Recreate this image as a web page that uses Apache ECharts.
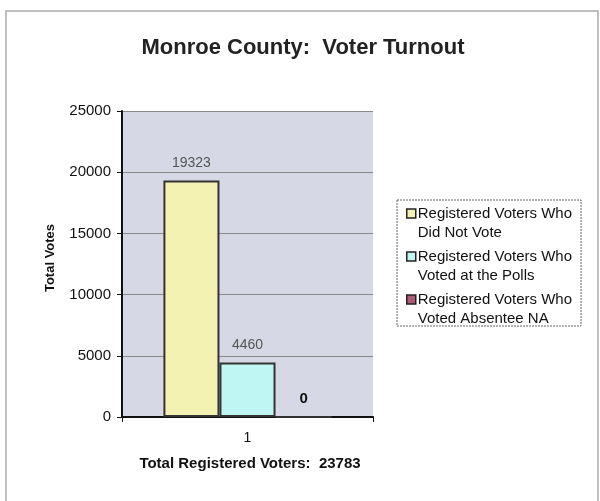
<!DOCTYPE html>
<html><head><meta charset="utf-8">
<script src="https://cdn.jsdelivr.net/npm/echarts@6/dist/echarts.min.js"></script>
<style>html,body{margin:0;padding:0;background:#fff}#c{width:600px;height:501px}</style>
</head><body><div id="c"></div>
<script>
var categories = ['1'];
var seriesNames = ['Registered Voters Who\nDid Not Vote', 'Registered Voters Who\nVoted at the Polls', 'Registered Voters Who\nVoted Absentee NA'];
var didNotVote = [19323];
var votedAtPolls = [4460];
var votedAbsentee = [0];
var yTicks = [0, 5000, 10000, 15000, 20000, 25000];
var totalRegistered = 23783;

var colors = ['#f4f2b2', '#bff5f3', '#b05a78'];
var font = 'Liberation Sans, Arial, sans-serif';
var chart = echarts.init(document.getElementById('c'));
function mk(name, data, color, lblStyle) {
  return {
    name: name, type: 'bar', data: data, barGap: '0%', barCategoryGap: '33%',
    itemStyle: { color: color, borderColor: '#333', borderWidth: 2 },
    label: Object.assign({ show: true, position: 'top', distance: 10, fontFamily: font, fontSize: 14, color: '#555' }, lblStyle || {})
  };
}
chart.setOption({
  animation: false,
  graphic: [
    { type: 'rect', shape: { x: 6, y: 11, width: 592, height: 500 }, style: { fill: 'none', stroke: '#aaa', lineWidth: 1.5 }, z: -1 },
    { type: 'text', x: 303, y: 48, style: { text: 'Monroe County:  Voter Turnout', fontFamily: font, fontSize: 22, fontWeight: 'bold', fill: '#222', textAlign: 'center', textVerticalAlign: 'middle' } },
    { type: 'text', x: 250, y: 464, style: { text: 'Total Registered Voters:  ' + totalRegistered, fontFamily: font, fontSize: 15, fontWeight: 'bold', fill: '#111', textAlign: 'center', textVerticalAlign: 'middle' } },
    { type: 'text', x: 50, y: 258, rotation: Math.PI / 2, style: { text: 'Total Votes', fontFamily: font, fontSize: 13, fontWeight: 'bold', fill: '#111', textAlign: 'center', textVerticalAlign: 'middle' } },
    { type: 'rect', shape: { x: 397, y: 200, width: 184, height: 126 }, style: { fill: '#fff', stroke: '#666', lineWidth: 1, lineDash: [2, 1] }, z: 0 }
  ],
  grid: { left: 122, right: 227, top: 111, bottom: 84, show: true, backgroundColor: '#d6d9e5', borderWidth: 0 },
  legend: {
    orient: 'vertical', left: 401, top: 180, itemWidth: 9, itemHeight: 9, itemGap: -14,
    icon: 'rect',
    formatter: function (n) { return ' \n' + n; },
    textStyle: { fontFamily: font, fontSize: 15, color: '#111', lineHeight: 19, padding: [0, 0, 0, -3] },
    data: seriesNames.map(function (n) { return { name: n, itemStyle: { borderColor: '#222', borderWidth: 1.5 } }; })
  },
  xAxis: {
    type: 'category', data: categories,
    axisLine: { lineStyle: { color: '#111', width: 2 } },
    axisTick: { show: true, length: 5, lineStyle: { color: '#111' } },
    axisLabel: { fontFamily: font, fontSize: 14, color: '#111', margin: 14 }
  },
  yAxis: {
    type: 'value', min: yTicks[0], max: yTicks[yTicks.length - 1], interval: 5000,
    axisLine: { show: true, lineStyle: { color: '#111', width: 2 } },
    axisTick: { show: true, length: 5, lineStyle: { color: '#111' } },
    axisLabel: { fontFamily: font, fontSize: 15, color: '#111', margin: 11, formatter: function (v) { return String(v); } },
    splitLine: { lineStyle: { color: '#888', width: 1 } }
  },
  series: [
    mk(seriesNames[0], didNotVote, colors[0]),
    mk(seriesNames[1], votedAtPolls, colors[1]),
    mk(seriesNames[2], votedAbsentee, colors[2], { color: '#111', fontWeight: 'bold', fontSize: 15 })
  ]
});
</script></body></html>
